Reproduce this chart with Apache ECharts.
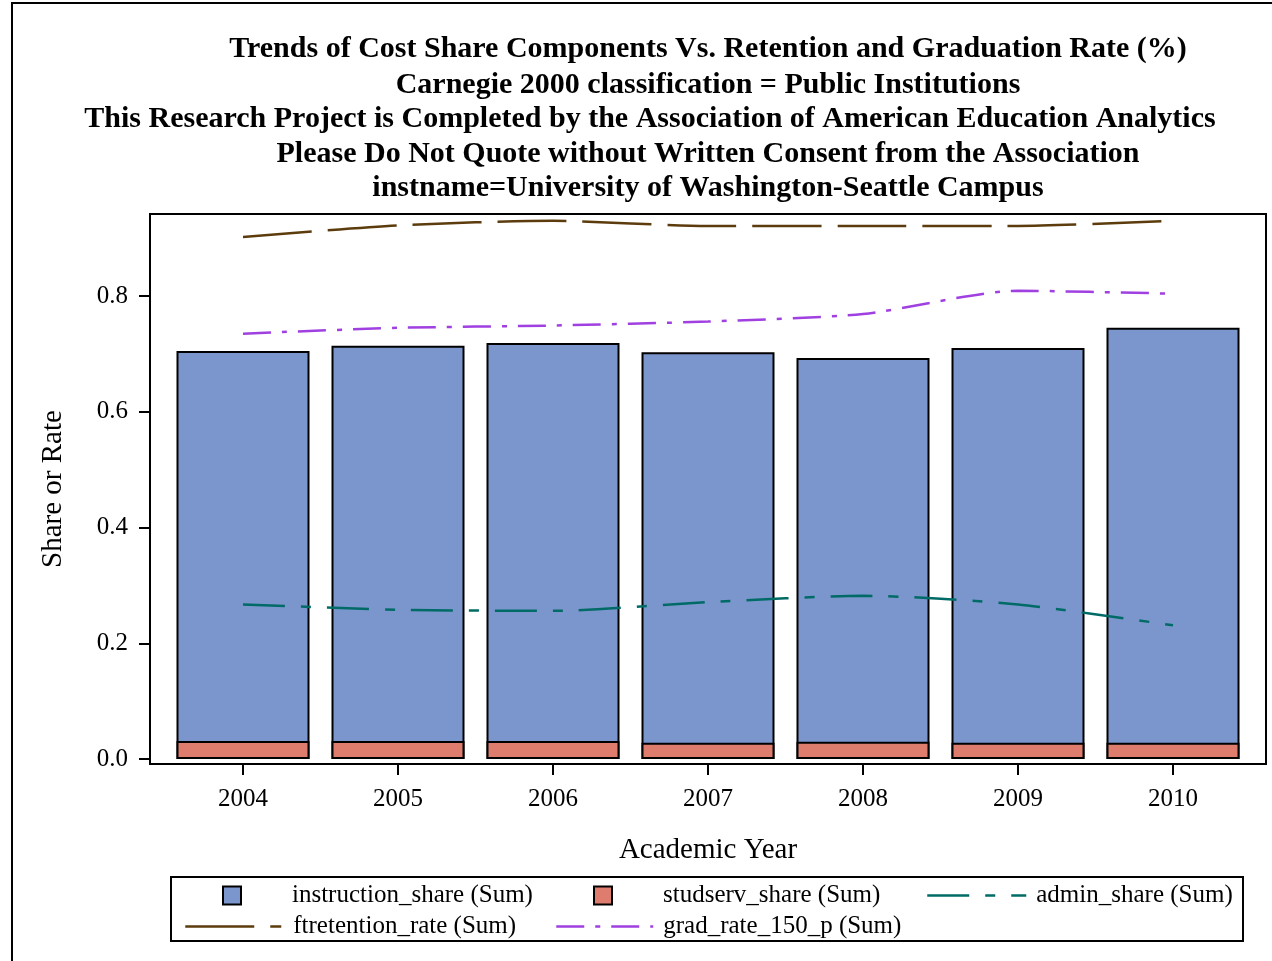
<!DOCTYPE html>
<html>
<head>
<meta charset="utf-8">
<script src="https://cdn.jsdelivr.net/npm/echarts@6/dist/echarts.min.js"></script>
<style>
html,body{margin:0;padding:0;background:#fff;}
#chart{width:1272px;height:961px;}
</style>
</head>
<body>
<div id="chart"></div>
<script>
// ---- data ----
const years = [2004, 2005, 2006, 2007, 2008, 2009, 2010];
const instructionShare = [0.705, 0.714, 0.719, 0.703, 0.693, 0.710, 0.745];
const studservShare = [0.031, 0.031, 0.031, 0.028, 0.030, 0.028, 0.028];
const adminShare = [0.267, 0.258, 0.256, 0.271, 0.282, 0.267, 0.231];
const ftretentionRate = [0.902, 0.922, 0.930, 0.921, 0.921, 0.921, 0.930];
const gradRate150 = [0.735, 0.745, 0.749, 0.756, 0.769, 0.809, 0.804];
const yTicks = [0.0, 0.2, 0.4, 0.6, 0.8];
const titleLines = [
  'Trends of Cost Share Components Vs. Retention and Graduation Rate (%)',
  'Carnegie 2000 classification = Public Institutions',
  'This Research Project is Completed by the Association of American Education Analytics',
  'Please Do Not Quote without Written Consent from the Association',
  'instname=University of Washington-Seattle Campus'
];

const FONT = '"Liberation Serif", "DejaVu Serif", serif';
const pair = (arr) => arr.map((v, i) => [years[i], v]);

const titleCenters = [708, 708, 650, 708, 708];
const titleTops = [34, 70, 104, 139, 173];

const chart = echarts.init(document.getElementById('chart'), null, {renderer: 'canvas'});

const txt = (pad) => ({fontFamily: FONT, fontSize: 25, color: '#000', padding: [0, 0, 0, pad]});
const hideSymbol = {color: 'rgba(0,0,0,0)', borderColor: 'rgba(0,0,0,0)', borderWidth: 0, opacity: 0};
const legendLine = {width: 2.5};

const option = {
  backgroundColor: '#fff',
  animation: false,
  title: titleLines.map((t, i) => ({
    text: t,
    left: titleCenters[i],
    top: titleTops[i],
    textAlign: 'center',
    padding: 0,
    textStyle: {fontFamily: FONT, fontSize: 30, fontWeight: 'bold', color: '#000'}
  })),
  graphic: [
    {type: 'rect', shape: {x: 12, y: 3, width: 1300, height: 1000}, style: {fill: 'none', stroke: '#000', lineWidth: 2}, silent: true},
    {type: 'rect', shape: {x: 171, y: 877, width: 1072, height: 64}, style: {fill: 'none', stroke: '#000', lineWidth: 2}, silent: true}
  ],
  legend: [
    {data: [{name: 'instruction_share (Sum)', icon: 'rect'}], left: 222, top: 883, padding: 0, itemWidth: 18, itemHeight: 18, itemGap: 0, textStyle: txt(46)},
    {data: [{name: 'studserv_share (Sum)', icon: 'rect'}], left: 593, top: 883, padding: 0, itemWidth: 18, itemHeight: 18, itemGap: 0, textStyle: txt(46)},
    {data: ['admin_share (Sum)'], left: 926, top: 883, padding: 0, itemWidth: 99, itemHeight: 18, itemGap: 0, textStyle: txt(5), itemStyle: hideSymbol, lineStyle: legendLine},
    {data: ['ftretention_rate (Sum)'], left: 184, top: 914, padding: 0, itemWidth: 96, itemHeight: 18, itemGap: 0, textStyle: txt(7), itemStyle: hideSymbol, lineStyle: legendLine},
    {data: ['grad_rate_150_p (Sum)'], left: 555, top: 914, padding: 0, itemWidth: 97, itemHeight: 18, itemGap: 0, textStyle: txt(5), itemStyle: hideSymbol, lineStyle: legendLine}
  ],
  grid: {
    left: 150, top: 214, right: 6, bottom: 197,
    show: true, borderColor: '#000', borderWidth: 2, backgroundColor: 'transparent'
  },
  xAxis: {
    type: 'value',
    min: 2003.4,
    max: 2010.6,
    name: 'Academic Year',
    nameLocation: 'middle',
    nameGap: 72,
    nameTextStyle: {fontFamily: FONT, fontSize: 29, color: '#000'},
    axisLine: {show: true, onZero: false, lineStyle: {color: '#000', width: 2}},
    axisTick: {show: true, customValues: years, length: 11, lineStyle: {color: '#000', width: 2}},
    axisLabel: {customValues: years, margin: 23, fontFamily: FONT, fontSize: 25, color: '#000', formatter: v => String(Math.round(v))},
    splitLine: {show: false}
  },
  yAxis: {
    type: 'value',
    min: -0.0086,
    max: 0.9417,
    name: 'Share or Rate',
    nameLocation: 'middle',
    nameGap: 82,
    nameTextStyle: {fontFamily: FONT, fontSize: 29, color: '#000'},
    axisLine: {show: true, lineStyle: {color: '#000', width: 2}},
    axisTick: {show: true, customValues: yTicks, length: 11, lineStyle: {color: '#000', width: 2}},
    axisLabel: {customValues: yTicks, margin: 22, fontFamily: FONT, fontSize: 25, color: '#000', formatter: v => v.toFixed(1)},
    splitLine: {show: false}
  },
  series: [
    {
      name: 'instruction_share (Sum)', type: 'bar', data: pair(instructionShare),
      barWidth: 133, barGap: '-100%',
      itemStyle: {color: '#7b96cc', borderColor: '#000', borderWidth: 2},
      z: 2
    },
    {
      name: 'studserv_share (Sum)', type: 'bar', data: pair(studservShare),
      barWidth: 133, barGap: '-100%',
      itemStyle: {color: '#de7d6e', borderColor: '#000', borderWidth: 2},
      z: 3
    },
    {
      name: 'admin_share (Sum)', type: 'line', data: pair(adminShare), smooth: 0.25,
      symbol: 'none', itemStyle: {color: '#006b66'},
      lineStyle: {color: '#006b66', width: 2.5, type: [42, 16, 10, 16]}, z: 5
    },
    {
      name: 'ftretention_rate (Sum)', type: 'line', data: pair(ftretentionRate), smooth: 0.25,
      symbol: 'none', itemStyle: {color: '#5c3c0c'},
      lineStyle: {color: '#5c3c0c', width: 2.5, type: [69, 16]}, z: 5
    },
    {
      name: 'grad_rate_150_p (Sum)', type: 'line', data: pair(gradRate150), smooth: 0.25,
      symbol: 'none', itemStyle: {color: '#a040e0'},
      lineStyle: {color: '#a040e0', width: 2.5, type: [28, 11, 5, 11]}, z: 5
    }
  ]
};
chart.setOption(option);
</script>
</body>
</html>
